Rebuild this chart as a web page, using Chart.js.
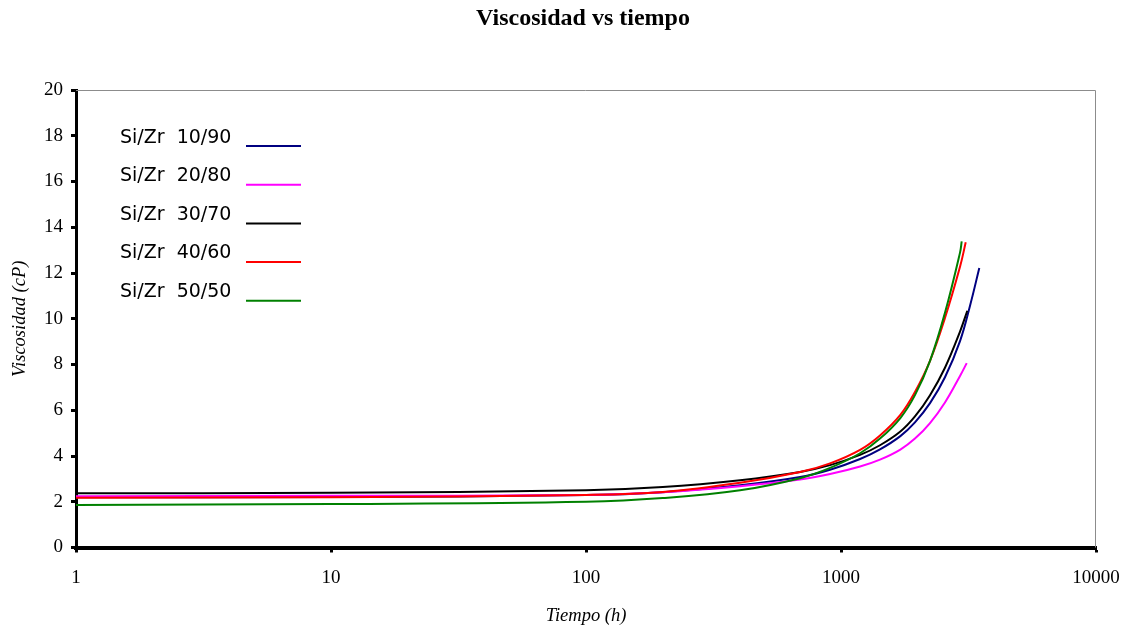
<!DOCTYPE html>
<html>
<head>
<meta charset="utf-8">
<title>Viscosidad vs tiempo</title>
<script src="https://cdn.jsdelivr.net/npm/chart.js@4"></script>
<style>
    body { margin: 0; background: #fff; }
    #grafico { display: block; }
</style>
</head>
<body>
<canvas id="grafico" width="1126" height="627"></canvas>
<script>
// Muestras Si/Zr
const muestras = ["Si/Zr  10/90", "Si/Zr  20/80", "Si/Zr  30/70", "Si/Zr  40/60", "Si/Zr  50/50"];
const colores = ["#000080", "#ff00ff", "#000000", "#ff0000", "#008000"];

// tiempo (h) y viscosidad (cP) de cada muestra
const tiempo1090 = [1, 10, 100, 200, 402, 691, 906, 1188, 1422, 1709, 1950, 2234, 2557, 2929, 3206, 3486];
const visc1090 = [2.20, 2.21, 2.29, 2.42, 2.72, 3.08, 3.40, 3.87, 4.29, 4.87, 5.47, 6.31, 7.44, 9.02, 10.57, 12.22];

const tiempo2080 = [1, 10, 100, 200, 402, 691, 906, 1188, 1422, 1709, 1950, 2234, 2557, 2929, 3112];
const visc2080 = [2.24, 2.26, 2.30, 2.42, 2.68, 2.97, 3.21, 3.54, 3.84, 4.28, 4.76, 5.44, 6.34, 7.50, 8.06];

const tiempo3070 = [1, 10, 100, 200, 402, 691, 906, 1188, 1422, 1709, 1950, 2234, 2557, 2929, 3128];
const visc3070 = [2.37, 2.39, 2.50, 2.64, 2.94, 3.30, 3.60, 4.05, 4.47, 5.07, 5.73, 6.66, 7.86, 9.44, 10.35];

const tiempo4060 = [1, 10, 100, 200, 402, 691, 906, 1188, 1422, 1709, 1950, 2234, 2557, 2929, 3084];
const visc4060 = [2.18, 2.20, 2.30, 2.43, 2.83, 3.30, 3.68, 4.27, 4.90, 5.80, 6.80, 8.16, 10.03, 12.27, 13.34];

const tiempo5050 = [1, 10, 100, 200, 402, 691, 906, 1188, 1422, 1709, 1950, 2234, 2557, 2929, 2974];
const visc5050 = [1.86, 1.90, 2.00, 2.16, 2.50, 3.03, 3.48, 4.12, 4.76, 5.66, 6.66, 8.16, 10.26, 12.89, 13.38];

const ticksTiempo = [1, 10, 100, 1000, 10000];

const series = [
    [tiempo1090, visc1090],
    [tiempo2080, visc2080],
    [tiempo3070, visc3070],
    [tiempo4060, visc4060],
    [tiempo5050, visc5050]
];

const serif = "'Liberation Serif', 'DejaVu Serif', serif";

// título centrado sobre todo el gráfico
const titulo = {
    id: "titulo",
    afterDraw(chart) {
        const ctx = chart.ctx;
        ctx.save();
        ctx.font = "bold 24px " + serif;
        ctx.fillStyle = "#000";
        ctx.textAlign = "center";
        ctx.textBaseline = "alphabetic";
        ctx.fillText("Viscosidad vs tiempo", 583, 25);
        ctx.restore();
    }
};

// marco gris arriba y a la derecha
const marco = {
    id: "marco",
    beforeDatasetsDraw(chart) {
        const { ctx, chartArea: a } = chart;
        ctx.save();
        ctx.strokeStyle = "#8c8c8c";
        ctx.lineWidth = 1;
        ctx.beginPath();
        ctx.moveTo(a.left, a.top + 0.5);
        ctx.lineTo(a.right - 0.5, a.top + 0.5);
        ctx.lineTo(a.right - 0.5, a.bottom);
        ctx.stroke();
        ctx.restore();
    }
};

// leyenda dentro del área: texto a la izquierda, línea a la derecha
const leyenda = {
    id: "leyenda",
    afterDraw(chart) {
        const ctx = chart.ctx;
        ctx.save();
        ctx.font = "19px 'DejaVu Sans', sans-serif";
        ctx.textBaseline = "middle";
        ctx.fillStyle = "#000";
        chart.data.datasets.forEach((ds, i) => {
            ctx.fillText(ds.label, 120, 138 + i * 38.5);
            ctx.strokeStyle = ds.borderColor;
            ctx.lineWidth = 2;
            ctx.beginPath();
            ctx.moveTo(246, 146 + i * 38.7);
            ctx.lineTo(301, 146 + i * 38.7);
            ctx.stroke();
        });
        ctx.restore();
    }
};

const datasets = series.map(([t, v], i) => ({
    label: muestras[i],
    data: t.map((x, k) => ({ x: x, y: v[k] })),
    borderColor: colores[i],
    backgroundColor: colores[i],
    borderWidth: 2,
    pointRadius: 0,
    tension: 0.4,
    order: series.length - i
}));

new Chart(document.getElementById("grafico"), {
    type: "line",
    data: { datasets },
    options: {
        responsive: false,
        animation: false,
        events: [],
        layout: { padding: { left: 0, right: 30, top: 90, bottom: 0 } },
        plugins: {
            legend: { display: false },
            tooltip: { enabled: false },
            title: { display: false }
        },
        scales: {
            x: {
                type: "logarithmic",
                min: 1,
                max: 10000,
                afterFit: (s) => {
                    s.height = 79.5;
                    s.paddingLeft = 0;
                    s.paddingRight = 0;
                },
                afterBuildTicks: (s) => { s.ticks = ticksTiempo.map((v) => ({ value: v, major: true })); },
                ticks: {
                    color: "#000",
                    font: { family: serif, size: 19 },
                    padding: 14,
                    maxRotation: 0,
                    autoSkip: false,
                    callback: (v) => String(v)
                },
                grid: { drawOnChartArea: false, tickLength: 5, tickWidth: 3, tickColor: "#000" },
                border: { color: "#000", width: 4 },
                title: {
                    display: true,
                    text: "Tiempo (h)",
                    color: "#000",
                    font: { family: serif, size: 18.5, style: "italic" },
                    padding: { top: 0, bottom: 0 }
                }
            },
            y: {
                min: 0,
                max: 20,
                afterFit: (s) => { s.width = 76; },
                ticks: {
                    stepSize: 2,
                    color: "#000",
                    font: { family: serif, size: 19 },
                    padding: 8
                },
                grid: { drawOnChartArea: false, tickLength: 5, tickWidth: 3, tickColor: "#000" },
                border: { color: "#000", width: 3 },
                title: {
                    display: true,
                    text: "Viscosidad (cP)",
                    color: "#000",
                    font: { family: serif, size: 18.5, style: "italic" },
                    padding: { top: 9, bottom: 0 }
                }
            }
        }
    },
    plugins: [titulo, marco, leyenda]
});
</script>
</body>
</html>
